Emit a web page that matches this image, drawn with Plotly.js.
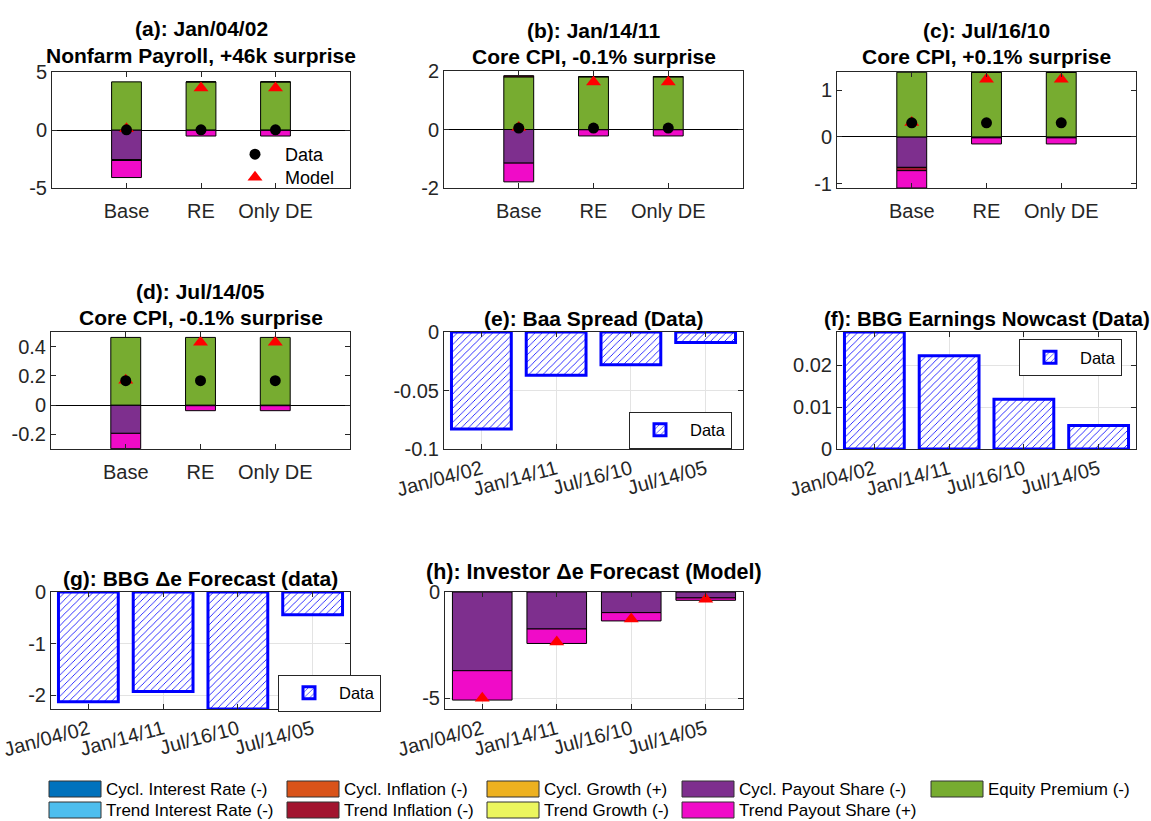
<!DOCTYPE html>
<html>
<head>
<meta charset="utf-8">
<script src="https://cdn.plot.ly/plotly-3.0.1.min.js"></script>
<style>html,body{margin:0;padding:0;background:#fff}#chart{width:1151px;height:821px}</style>
</head>
<body>
<div id="chart"></div>
<script>
// ---------------- DATA ----------------
const eventCats = ['Base', 'RE', 'Only DE'];
const dateCats = ['Jan/04/02', 'Jan/14/11', 'Jul/16/10', 'Jul/14/05'];

const components = ['Cycl. Interest Rate (-)', 'Cycl. Inflation (-)', 'Cycl. Growth (+)', 'Cycl. Payout Share (-)', 'Equity Premium (-)',
                    'Trend Interest Rate (-)', 'Trend Inflation (-)', 'Trend Growth (-)', 'Trend Payout Share (+)'];
const compColors = ['#0072BD', '#D95319', '#EDB120', '#7E2F8E', '#77AC30',
                    '#4DBEEE', '#A2142F', '#ECF65E', '#F00BC8'];

// (a) Jan/04/02 Nonfarm Payroll
const a_cyclPayout  = [-2.55, -0.03, -0.03];
const a_trendInfl   = [-0.08, 0, 0];
const a_trendPayout = [-1.47, -0.49, -0.49];
const a_equity      = [4.15, 4.15, 4.15];
const a_data        = [0.02, 0.02, 0.02];
const a_model       = [0.10, 3.63, 3.63];

// (b) Jan/14/11 Core CPI
const b_cyclPayout  = [-1.15, -0.01, -0.01];
const b_trendInfl   = [0.04, 0.01, 0.01];
const b_trendPayout = [-0.64, -0.21, -0.21];
const b_equity      = [1.80, 1.80, 1.80];
const b_data        = [0.05, 0.05, 0.05];
const b_model       = [0.07, 1.62, 1.62];

// (c) Jul/16/10 Core CPI
const c_cyclPayout  = [-0.65, -0.02, -0.02];
const c_trendInfl   = [-0.07, 0, 0];
const c_trendPayout = [-0.37, -0.13, -0.13];
const c_equity      = [1.38, 1.38, 1.38];
const c_data        = [0.30, 0.30, 0.30];
const c_model       = [0.31, 1.23, 1.23];

// (d) Jul/14/05 Core CPI
const d_cyclPayout  = [-0.193, -0.004, -0.004];
const d_trendPayout = [-0.105, -0.034, -0.034];
const d_equity      = [0.463, 0.463, 0.463];
const d_data        = [0.167, 0.167, 0.167];
const d_model       = [0.17, 0.43, 0.43];

// (e) Baa spread (data)
const e_baa = [-0.083, -0.037, -0.028, -0.009];
// (f) BBG earnings nowcast (data)
const f_nowcast = [0.028, 0.0223, 0.0119, 0.0056];
// (g) BBG Δe forecast (data)
const g_forecast = [-2.13, -1.93, -2.27, -0.44];
// (h) Investor Δe forecast (model)
const h_cyclPayout  = [-3.70, -1.74, -0.97, -0.28];
const h_trendPayout = [-1.38, -0.68, -0.39, -0.11];
const h_model       = [-5.00, -2.35, -1.27, -0.34];

// titles
const titles = [
  ['(a): Jan/04/02', 'Nonfarm Payroll, +46k surprise'],
  ['(b): Jan/14/11', 'Core CPI, -0.1% surprise'],
  ['(c): Jul/16/10', 'Core CPI, +0.1% surprise'],
  ['(d): Jul/14/05', 'Core CPI, -0.1% surprise'],
  ['(e): Baa Spread (Data)'],
  ['(f): BBG Earnings Nowcast (Data)'],
  ['(g): BBG \u0394e Forecast (data)'],
  ['(h): Investor \u0394e Forecast (Model)']
];

// y ticks
const yTickVals = [[-5, 0, 5], [-2, 0, 2], [-1, 0, 1], [-0.2, 0, 0.2, 0.4], [-0.1, -0.05, 0], [0, 0.01, 0.02], [-2, -1, 0], [-5, 0]];
const yTickText = [['-5', '0', '5'], ['-2', '0', '2'], ['-1', '0', '1'], ['-0.2', '0', '0.2', '0.4'], ['-0.1', '-0.05', '0'], ['0', '0.01', '0.02'], ['-2', '-1', '0'], ['-5', '0']];
const yRanges = [[-5, 5], [-2, 2], [-1.09, 1.385], [-0.3, 0.5], [-0.1, 0], [0, 0.028], [-2.27, 0], [-5.5, 0]];

// ---------------- LAYOUT GEOMETRY ----------------
const W = 1151, H = 821;
const boxes = [
  [52, 350, 72, 188], [444, 743, 71, 188], [837, 1136, 72, 188],
  [51, 350, 332, 449], [444, 743, 332, 449], [837, 1136, 332, 449],
  [51, 350, 592, 709], [445, 743, 592, 709]
];
const titleY = [[29, 55], [30, 57], [30, 57], [292, 317], [318], [318], [578], [572]];
const titleSize = [21, 21, 21, 21, 21, 20.5, 21, 21.5];
const FONT = 'Liberation Sans, Arial, Helvetica, sans-serif';
const fx = x => x / W, fy = y => 1 - y / H;

const traces = [];
function ax(n) { return n === 1 ? '' : String(n); }

function addStack(n, cats, parts, width) {
  parts.forEach(([ci, vals]) => {
    traces.push({
      type: 'bar', x: cats, y: vals, width: width,
      xaxis: 'x' + ax(n), yaxis: 'y' + ax(n),
      marker: {color: compColors[ci], line: {color: '#000', width: 1}},
      name: components[ci], showlegend: false, hoverinfo: 'skip'
    });
  });
}
function addMarkers(n, cats, model, data, legend) {
  traces.push({
    type: 'scatter', mode: 'markers', x: cats, y: model, xaxis: 'x' + ax(n), yaxis: 'y' + ax(n),
    marker: {symbol: 'triangle-up', size: 13, color: '#FF0000'}, name: 'Model',
    showlegend: !!legend, legend: 'legend5', cliponaxis: false
  });
  if (data) traces.push({
    type: 'scatter', mode: 'markers', x: cats, y: data, xaxis: 'x' + ax(n), yaxis: 'y' + ax(n),
    marker: {symbol: 'circle', size: 11, color: '#000'}, name: 'Data',
    showlegend: !!legend, legend: 'legend'
  });
}
function addHatched(n, cats, vals, legendName) {
  traces.push({
    type: 'bar', x: cats, y: vals, width: 0.8, xaxis: 'x' + ax(n), yaxis: 'y' + ax(n),
    marker: {color: '#FFFFFF', line: {color: '#0000FF', width: 3},
             pattern: {shape: '/', fgcolor: '#0000FF', bgcolor: '#FFFFFF', size: 5, solidity: 0.16}},
    name: 'Data', showlegend: true, legend: legendName
  });
}

addStack(1, eventCats, [[3, a_cyclPayout], [4, a_equity], [6, a_trendInfl], [8, a_trendPayout]], 0.4);
addMarkers(1, eventCats, a_model, a_data, true);
addStack(2, eventCats, [[3, b_cyclPayout], [4, b_equity], [6, b_trendInfl], [8, b_trendPayout]], 0.4);
addMarkers(2, eventCats, b_model, b_data, false);
addStack(3, eventCats, [[3, c_cyclPayout], [4, c_equity], [6, c_trendInfl], [8, c_trendPayout]], 0.4);
addMarkers(3, eventCats, c_model, c_data, false);
addStack(4, eventCats, [[3, d_cyclPayout], [4, d_equity], [8, d_trendPayout]], 0.4);
addMarkers(4, eventCats, d_model, d_data, false);
addHatched(5, dateCats, e_baa, 'legend2');
addHatched(6, dateCats, f_nowcast, 'legend3');
addHatched(7, dateCats, g_forecast, 'legend4');
addStack(8, dateCats, [[3, h_cyclPayout], [8, h_trendPayout]], 0.8);
addMarkers(8, dateCats, h_model, null, false);

const layout = {
  width: W, height: H, margin: {l: 0, r: 0, t: 0, b: 0},
  paper_bgcolor: '#fff', plot_bgcolor: '#fff',
  barmode: 'relative', bargap: 0,
  font: {family: FONT, size: 20, color: '#262626'},
  showlegend: true,
  annotations: [], shapes: []
};

for (let i = 0; i < 8; i++) {
  const n = i + 1, b = boxes[i];
  const isEvent = i < 4;
  layout['xaxis' + ax(n)] = {
    domain: [fx(b[0]), fx(b[1])], anchor: 'y' + ax(n), type: 'category',
    range: isEvent ? [-1, 3] : [-0.5, 3.5],
    showline: true, linecolor: '#262626', linewidth: 1, mirror: 'allticks',
    ticks: 'inside', ticklen: 5, tickcolor: '#262626',
    tickfont: {size: 20, color: '#262626', family: FONT},
    tickangle: isEvent ? 0 : -15, ticklabelstandoff: isEvent ? 5 : 0,
    showgrid: !isEvent, gridcolor: '#E3E3E3', zeroline: false, fixedrange: true
  };
  layout['yaxis' + ax(n)] = {
    domain: [fy(b[3]), fy(b[2])], anchor: 'x' + ax(n),
    range: yRanges[i], tickvals: yTickVals[i], ticktext: yTickText[i],
    showline: true, linecolor: '#262626', linewidth: 1, mirror: 'allticks',
    ticks: 'inside', ticklen: 5, tickcolor: '#262626',
    tickfont: {size: 20, color: '#262626', family: FONT},
    showgrid: !isEvent, gridcolor: '#E3E3E3',
    zeroline: isEvent, zerolinecolor: '#000', zerolinewidth: 1, fixedrange: true
  };
  titles[i].forEach((t, k) => {
    layout.annotations.push({
      text: '<b>' + t + '</b>', xref: 'paper', yref: 'paper',
      x: fx((b[0] + b[1]) / 2), y: fy(titleY[i][k]), xanchor: 'center', yanchor: 'middle',
      showarrow: false, font: {family: FONT, size: titleSize[i], color: '#000'}
    });
  });
}

// legends
const markLegend = (ytop) => ({x: fx(225), y: fy(ytop), xanchor: 'left', yanchor: 'top', bgcolor: 'rgba(0,0,0,0)',
  borderwidth: 0, font: {size: 18, color: '#000', family: FONT}, itemwidth: 50});
layout.legend = markLegend(136);
layout.legend5 = markLegend(159);
const boxLegend = (xr, ymid) => ({x: fx(xr), y: fy(ymid), xanchor: 'right', yanchor: 'middle', bgcolor: '#fff',
  bordercolor: '#262626', borderwidth: 1, font: {size: 16.5, color: '#000', family: FONT}, itemwidth: 50});
layout.legend2 = boxLegend(732, 430);
layout.legend3 = boxLegend(1122, 357.5);
layout.legend4 = boxLegend(381, 693);

// bottom legend of components
const legCols = [49, 287, 487, 682, 931];
const legRows = [781, 802];
components.forEach((name, i) => {
  const col = i % 5, row = Math.floor(i / 5);
  const x0 = legCols[col], y0 = legRows[row];
  layout.shapes.push({type: 'rect', xref: 'paper', yref: 'paper',
    x0: fx(x0), x1: fx(x0 + 52), y0: fy(y0 + 16), y1: fy(y0),
    fillcolor: compColors[i], line: {color: '#333', width: 1}});
  layout.annotations.push({text: name, xref: 'paper', yref: 'paper', x: fx(x0 + 55), y: fy(y0 + 8),
    xanchor: 'left', yanchor: 'middle', showarrow: false, font: {family: FONT, size: 17, color: '#000'}});
});

Plotly.newPlot('chart', traces, layout, {displayModeBar: false, staticPlot: true});
</script>
</body>
</html>
